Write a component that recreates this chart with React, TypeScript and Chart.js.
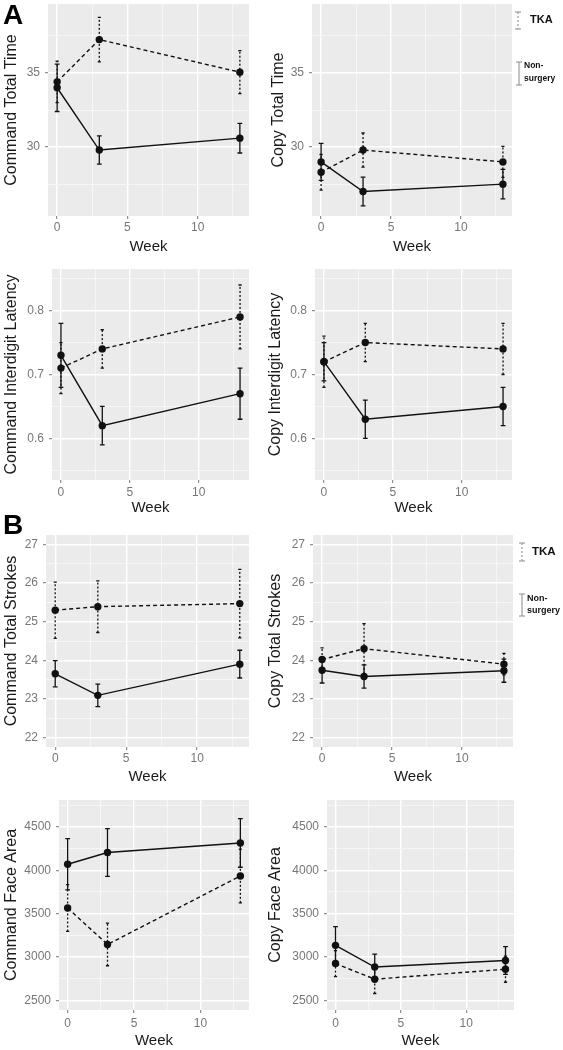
import React, { useEffect, useRef } from "react";
import { Chart, registerables } from "chart.js";

Chart.register(...registerables);

const FONT = "'Liberation Sans', Arial, Helvetica, sans-serif";
Chart.defaults.font.family = FONT;

// ---------- shared axis data ----------
const weeks = [0, 3, 13];
const groupNames = ["TKA", "Non-surgery"];
const xTickValues = [0, 2.5, 5, 7.5, 10, 12.5];
const xMajorTicks = [0, 5, 10];
const xRange = [-0.65, 13.65];

// ---------- A: total time ----------
const cmdTimeTKA = [34.4, 37.25, 35.05];
const cmdTimeTKAErr = [1.4, 1.5, 1.45];
const cmdTimeNon = [34.0, 29.8, 30.6];
const cmdTimeNonErr = [1.6, 0.95, 1.0];
const copyTimeTKA = [28.3, 29.8, 29.0];
const copyTimeTKAErr = [1.2, 1.15, 1.05];
const copyTimeNon = [29.0, 27.0, 27.5];
const copyTimeNonErr = [1.25, 0.97, 1.0];
const timeTicks = [27.5, 30, 32.5, 35, 37.5];
const timeMajor = [30, 35];
const timeRange = [25.35, 39.65];

// ---------- A: interdigit latency ----------
const cmdLatTKA = [0.71, 0.74, 0.79];
const cmdLatTKAErr = [0.04, 0.03, 0.05];
const cmdLatNon = [0.73, 0.62, 0.67];
const cmdLatNonErr = [0.05, 0.03, 0.04];
const copyLatTKA = [0.72, 0.75, 0.74];
const copyLatTKAErr = [0.04, 0.03, 0.04];
const copyLatNon = [0.72, 0.63, 0.65];
const copyLatNonErr = [0.03, 0.03, 0.03];
const latTicks = [0.55, 0.6, 0.65, 0.7, 0.75, 0.8, 0.85];
const latMajor = [0.6, 0.7, 0.8];
const latRange = [0.535, 0.865];

// ---------- B: total strokes ----------
const cmdStrokeTKA = [25.3, 25.39, 25.47];
const cmdStrokeTKAErr = [0.73, 0.67, 0.89];
const cmdStrokeNon = [23.65, 23.09, 23.9];
const cmdStrokeNonErr = [0.34, 0.29, 0.36];
const copyStrokeTKA = [24.02, 24.3, 23.9];
const copyStrokeTKAErr = [0.3, 0.65, 0.28];
const copyStrokeNon = [23.74, 23.58, 23.73];
const copyStrokeNonErr = [0.33, 0.3, 0.3];
const strokeTicks = [22, 22.5, 23, 23.5, 24, 24.5, 25, 25.5, 26, 26.5, 27];
const strokeMajor = [22, 23, 24, 25, 26, 27];
const strokeRange = [21.75, 27.25];

// ---------- B: face area ----------
const cmdAreaTKA = [3565, 3145, 3935];
const cmdAreaTKAErr = [270, 245, 310];
const cmdAreaNon = [4070, 4205, 4315];
const cmdAreaNonErr = [295, 275, 280];
const copyAreaTKA = [2925, 2745, 2860];
const copyAreaTKAErr = [150, 165, 150];
const copyAreaNon = [3135, 2885, 2960];
const copyAreaNonErr = [215, 150, 160];
const areaTicks = [2500, 2750, 3000, 3250, 3500, 3750, 4000, 4250, 4500, 4750];
const areaMajor = [2500, 3000, 3500, 4000, 4500];
const areaRange = [2390, 4810];

// ---------- plugins ----------
const bgPlugin = {
  id: "panelBg",
  beforeDraw(chart: any) {
    const { ctx, chartArea: a } = chart;
    ctx.save();
    ctx.fillStyle = "#EBEBEB";
    ctx.fillRect(a.left, a.top, a.right - a.left, a.bottom - a.top);
    ctx.restore();
  },
};

const errorBarPlugin = {
  id: "errorBars",
  afterDatasetsDraw(chart: any) {
    const ctx = chart.ctx;
    const xs = chart.scales.x;
    const ys = chart.scales.y;
    chart.data.datasets.forEach((ds: any) => {
      const errs = ds.errors;
      if (!errs) return;
      ctx.save();
      ctx.strokeStyle = "#111";
      ctx.lineWidth = 1.3;
      ds.data.forEach((p: any, i: number) => {
        const x = xs.getPixelForValue(p.x);
        const y1 = ys.getPixelForValue(p.y - errs[i]);
        const y2 = ys.getPixelForValue(p.y + errs[i]);
        ctx.setLineDash(ds.dashedBars ? [2, 2] : []);
        ctx.beginPath();
        ctx.moveTo(x, y1);
        ctx.lineTo(x, y2);
        ctx.stroke();
        ctx.setLineDash([]);
        const cw = ds.dashedBars ? 1.6 : 2.4;
        ctx.beginPath();
        ctx.moveTo(x - cw, y1);
        ctx.lineTo(x + cw, y1);
        ctx.moveTo(x - cw, y2);
        ctx.lineTo(x + cw, y2);
        ctx.stroke();
      });
      ctx.restore();
    });
  },
};

const legendPlugin = {
  id: "errLegend",
  afterDraw(chart: any, _args: any, opts: any) {
    if (!opts || !opts.items) return;
    const ctx = chart.ctx;
    opts.items.forEach((it: any) => {
      ctx.save();
      ctx.strokeStyle = "#8a8a8a";
      ctx.lineWidth = 1;
      ctx.setLineDash(it.dashed ? [2, 2] : []);
      ctx.beginPath();
      ctx.moveTo(it.x, it.y1);
      ctx.lineTo(it.x, it.y2);
      ctx.stroke();
      ctx.setLineDash([]);
      ctx.beginPath();
      ctx.moveTo(it.x - 3, it.y1);
      ctx.lineTo(it.x + 3, it.y1);
      ctx.moveTo(it.x - 3, it.y2);
      ctx.lineTo(it.x + 3, it.y2);
      ctx.stroke();
      ctx.fillStyle = "#111";
      ctx.font = `bold ${it.size}px ${FONT}`;
      ctx.textAlign = "left";
      ctx.textBaseline = "middle";
      it.lines.forEach((t: string, k: number) => ctx.fillText(t, it.tx, it.ty + k * it.lh));
      ctx.restore();
    });
  },
};

const [nonA, nonB] = groupNames[1].split("-");
const legendLines = [[groupNames[0]], [nonA + "-", nonB]];

// ---------- panel table ----------
const panels = [
  {
    canvas: { x: 0, y: 0, w: 262, h: 262 }, plot: { l: 48, t: 4, r: 249, b: 216 },
    yTitle: "Command Total Time", titleX: 12, weekY: 247, xPad: 1,
    tka: cmdTimeTKA, tkaErr: cmdTimeTKAErr, non: cmdTimeNon, nonErr: cmdTimeNonErr,
    yTicks: timeTicks, yMajor: timeMajor, yRange: timeRange,
  },
  {
    canvas: { x: 262, y: 0, w: 301, h: 262 }, plot: { l: 312, t: 4, r: 512, b: 216 },
    yTitle: "Copy Total Time", titleX: 279, weekY: 247, xPad: 1,
    tka: copyTimeTKA, tkaErr: copyTimeTKAErr, non: copyTimeNon, nonErr: copyTimeNonErr,
    yTicks: timeTicks, yMajor: timeMajor, yRange: timeRange,
    legend: {
      items: [
        { dashed: true, x: 256, y1: 12, y2: 29, tx: 268, ty: 20, lh: 0, size: 11, lines: legendLines[0] },
        { dashed: false, x: 257, y1: 62, y2: 85, tx: 262, ty: 66, lh: 13, size: 8.5, lines: legendLines[1] },
      ],
    },
  },
  {
    canvas: { x: 0, y: 262, w: 262, h: 258 }, plot: { l: 52, t: 269, r: 249, b: 480 },
    yTitle: "Command Interdigit Latency", titleX: 12, weekY: 508, xPad: 2,
    tka: cmdLatTKA, tkaErr: cmdLatTKAErr, non: cmdLatNon, nonErr: cmdLatNonErr,
    yTicks: latTicks, yMajor: latMajor, yRange: latRange,
  },
  {
    canvas: { x: 262, y: 262, w: 301, h: 258 }, plot: { l: 315, t: 269, r: 512, b: 480 },
    yTitle: "Copy Interdigit Latency", titleX: 276, weekY: 508, xPad: 2,
    tka: copyLatTKA, tkaErr: copyLatTKAErr, non: copyLatNon, nonErr: copyLatNonErr,
    yTicks: latTicks, yMajor: latMajor, yRange: latRange,
  },
  {
    canvas: { x: 0, y: 520, w: 262, h: 267 }, plot: { l: 46, t: 535, r: 249, b: 747 },
    yTitle: "Command Total Strokes", titleX: 12, weekY: 777, xPad: 1,
    tka: cmdStrokeTKA, tkaErr: cmdStrokeTKAErr, non: cmdStrokeNon, nonErr: cmdStrokeNonErr,
    yTicks: strokeTicks, yMajor: strokeMajor, yRange: strokeRange,
  },
  {
    canvas: { x: 262, y: 520, w: 301, h: 267 }, plot: { l: 313, t: 535, r: 513, b: 747 },
    yTitle: "Copy Total Strokes", titleX: 276, weekY: 777, xPad: 1,
    tka: copyStrokeTKA, tkaErr: copyStrokeTKAErr, non: copyStrokeNon, nonErr: copyStrokeNonErr,
    yTicks: strokeTicks, yMajor: strokeMajor, yRange: strokeRange,
    legend: {
      items: [
        { dashed: true, x: 260, y1: 23, y2: 41, tx: 270, ty: 32, lh: 0, size: 11.5, lines: legendLines[0] },
        { dashed: false, x: 260, y1: 74, y2: 96, tx: 265, ty: 79, lh: 12, size: 9, lines: legendLines[1] },
      ],
    },
  },
  {
    canvas: { x: 0, y: 787, w: 262, h: 263 }, plot: { l: 59, t: 800, r: 249, b: 1010 },
    yTitle: "Command Face Area", titleX: 12, weekY: 1041, xPad: 3,
    tka: cmdAreaTKA, tkaErr: cmdAreaTKAErr, non: cmdAreaNon, nonErr: cmdAreaNonErr,
    yTicks: areaTicks, yMajor: areaMajor, yRange: areaRange,
  },
  {
    canvas: { x: 262, y: 787, w: 301, h: 263 }, plot: { l: 327, t: 800, r: 514, b: 1010 },
    yTitle: "Copy Face Area", titleX: 276, weekY: 1041, xPad: 3,
    tka: copyAreaTKA, tkaErr: copyAreaTKAErr, non: copyAreaNon, nonErr: copyAreaNonErr,
    yTicks: areaTicks, yMajor: areaMajor, yRange: areaRange,
  },
];

const MAJOR_GRID = "#FFFFFF";
const MINOR_GRID = "#F6F6F6";
const TICK_COLOR = "#777777";
const TITLE_COLOR = "#1a1a1a";
const Y_TITLE_SIZE = 16;

function Panel({ spec }: { spec: any }) {
  const ref = useRef<HTMLCanvasElement>(null);
  const c = spec.canvas;
  const p = spec.plot;
  useEffect(() => {
    if (!ref.current) return;
    const isMajor = (arr: number[], v: number) => arr.some((m) => Math.abs(m - v) < 1e-9);
    const mkData = (vals: number[]) => weeks.map((w, i) => ({ x: w, y: vals[i] }));
    const chart = new Chart(ref.current, {
      type: "line",
      data: {
        datasets: [
          {
            label: groupNames[0],
            data: mkData(spec.tka),
            errors: spec.tkaErr,
            dashedBars: true,
            borderDash: [4, 3],
            borderColor: "#111",
            borderWidth: 1.4,
            pointRadius: 3.7,
            pointBackgroundColor: "#111",
            pointBorderWidth: 0,
            tension: 0,
          } as any,
          {
            label: groupNames[1],
            data: mkData(spec.non),
            errors: spec.nonErr,
            dashedBars: false,
            borderColor: "#111",
            borderWidth: 1.4,
            pointRadius: 3.7,
            pointBackgroundColor: "#111",
            pointBorderWidth: 0,
            tension: 0,
          } as any,
        ],
      },
      options: {
        animation: false,
        responsive: false,
        maintainAspectRatio: false,
        devicePixelRatio: 1,
        events: [],
        layout: { padding: { top: p.t - c.y, right: c.x + c.w - p.r, left: 0, bottom: 0 } },
        plugins: {
          legend: { display: false },
          tooltip: { enabled: false },
          errLegend: spec.legend ? spec.legend : false,
        } as any,
        scales: {
          x: {
            type: "linear",
            position: "bottom",
            min: xRange[0],
            max: xRange[1],
            afterBuildTicks: (s: any) => {
              s.ticks = xTickValues.map((v) => ({ value: v }));
            },
            afterFit: (s: any) => {
              s.height = c.y + c.h - p.b;
              s.paddingLeft = 0;
              s.paddingRight = 0;
            },
            ticks: {
              autoSkip: false,
              maxRotation: 0,
              padding: spec.xPad,
              color: TICK_COLOR,
              font: { size: 12 },
              callback: (v: any) => (isMajor(xMajorTicks, Number(v)) ? String(v) : ""),
            },
            grid: {
              color: (ctx: any) => (ctx.tick && isMajor(xMajorTicks, ctx.tick.value) ? MAJOR_GRID : MINOR_GRID),
              lineWidth: (ctx: any) => (ctx.tick && isMajor(xMajorTicks, ctx.tick.value) ? 1.4 : 1),
              tickColor: (ctx: any) => (ctx.tick && isMajor(xMajorTicks, ctx.tick.value) ? TICK_COLOR : "rgba(0,0,0,0)"),
              tickLength: 3,
              tickWidth: 1,
            },
            border: { display: false },
            title: {
              display: true,
              text: "Week",
              color: TITLE_COLOR,
              font: { size: 15 },
              padding: { top: 0, bottom: c.y + c.h - 9 - spec.weekY },
            },
          },
          y: {
            type: "linear",
            position: "left",
            min: spec.yRange[0],
            max: spec.yRange[1],
            afterBuildTicks: (s: any) => {
              s.ticks = spec.yTicks.map((v: number) => ({ value: v }));
            },
            afterFit: (s: any) => {
              s.width = p.l - c.x;
              s.paddingTop = 0;
              s.paddingBottom = 0;
            },
            ticks: {
              autoSkip: false,
              padding: 5,
              color: TICK_COLOR,
              font: { size: 12 },
              callback: (v: any) => (isMajor(spec.yMajor, Number(v)) ? String(v) : ""),
            },
            grid: {
              color: (ctx: any) => (ctx.tick && isMajor(spec.yMajor, ctx.tick.value) ? MAJOR_GRID : MINOR_GRID),
              lineWidth: (ctx: any) => (ctx.tick && isMajor(spec.yMajor, ctx.tick.value) ? 1.4 : 1),
              tickColor: (ctx: any) => (ctx.tick && isMajor(spec.yMajor, ctx.tick.value) ? TICK_COLOR : "rgba(0,0,0,0)"),
              tickLength: 3,
              tickWidth: 1,
            },
            border: { display: false },
            title: {
              display: true,
              text: spec.yTitle,
              color: TITLE_COLOR,
              font: { size: Y_TITLE_SIZE },
              padding: { top: spec.titleX - c.x - Y_TITLE_SIZE * 0.6, bottom: 0 },
            },
          },
        },
      } as any,
      plugins: [bgPlugin, errorBarPlugin, legendPlugin],
    });
    return () => chart.destroy();
  }, []);
  return (
    <canvas
      ref={ref}
      width={c.w}
      height={c.h}
      style={{ position: "absolute", left: c.x, top: c.y, width: c.w, height: c.h }}
    />
  );
}

const letterStyle: React.CSSProperties = {
  position: "absolute",
  left: 3,
  fontFamily: FONT,
  fontWeight: "bold",
  fontSize: 28,
  lineHeight: "28px",
  color: "#000",
};

export default function App() {
  return (
    <div style={{ position: "absolute", left: 0, top: 0, width: 563, height: 1050, background: "#fff", overflow: "hidden" }}>
      {panels.map((s, i) => (
        <Panel key={i} spec={s} />
      ))}
      <div style={{ ...letterStyle, top: 1 }}>A</div>
      <div style={{ ...letterStyle, top: 511 }}>B</div>
    </div>
  );
}
